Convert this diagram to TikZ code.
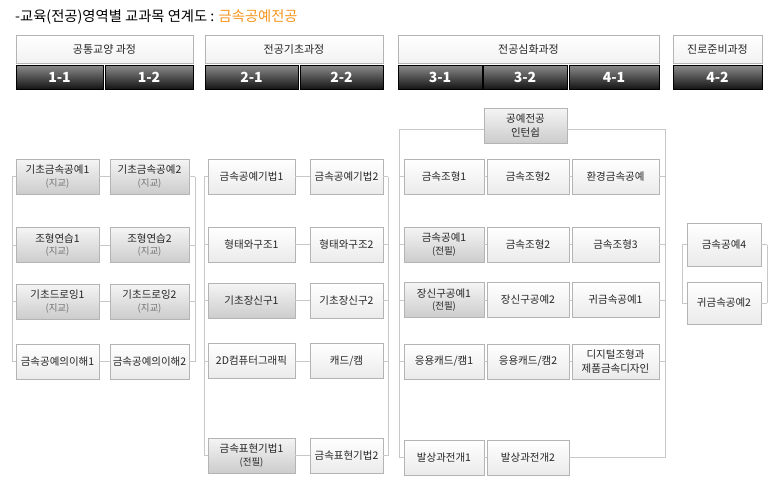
\documentclass[tikz,border=0pt]{standalone}
\usepackage{fontspec}
\setmainfont{Noto Sans CJK KR}
\definecolor{lineclr}{HTML}{C8C8C8}
\definecolor{boxclr}{HTML}{B4B4B4}
\definecolor{txtclr}{HTML}{262626}
\definecolor{orng}{HTML}{F7941D}
\tikzset{%
  course/.style = {shape=rectangle, draw=boxclr, line width=0.8pt, align=center,%
                   top color=white, bottom color=black!8, text=txtclr,%
                   font=\fontsize{10.5}{13.5}\selectfont, inner sep=0pt,%
                   minimum height=35},%
  req/.style    = {course, top color=black!4, bottom color=black!20},%
  area/.style   = {course, minimum height=28, bottom color=black!5,%
                   font=\fontsize{11}{13}\selectfont},%
  term/.style   = {shape=rectangle, draw=black, line width=0.8pt,%
                   top color=black!45, middle color=black!78, bottom color=black!92,%
                   text=white, font=\fontsize{14}{14}\selectfont\bfseries,%
                   minimum height=24, inner sep=0pt},%
  link/.style   = {draw=lineclr, line width=0.8pt}%
}
\newcommand{\jigyo}{\\[-1pt]{\fontsize{9.5}{11}\selectfont\color{black!55}(지교)}}
\newcommand{\jeonpil}{\\[-1pt]{\fontsize{9.5}{11}\selectfont(전필)}}

\begin{document}
\begin{tikzpicture}[x=1pt,y=-1pt]
  \useasboundingbox (0,0) rectangle (777,488);
  \node[anchor=west, inner sep=0pt, text=black, font=\fontsize{14.3}{15}\selectfont]
    (title) at (15,17) {-교육(전공)영역별 교과목 연계도 : {\color{orng}금속공예전공}};

  % course areas
  \node[area, minimum width=177] (h1) at (104.5,49) {공통교양 과정};
  \node[area, minimum width=178] (h2) at (294,49) {전공기초과정};
  \node[area, minimum width=261] (h3) at (528.5,49) {전공심화과정};
  \node[area, minimum width=89]  (h4) at (717.5,49) {진로준비과정};

  % terms
  \node[term, minimum width=87] (t11) at (59.5,77) {1-1};
  \node[term, minimum width=88] (t12) at (149,77) {1-2};
  \node[term, minimum width=93] (t21) at (251.5,77) {2-1};
  \node[term, minimum width=83] (t22) at (341.5,77) {2-2};
  \node[term, minimum width=84] (t31) at (440,77) {3-1};
  \node[term, minimum width=84] (t32) at (525,77) {3-2};
  \node[term, minimum width=90] (t41) at (614,77) {4-1};
  \node[term, minimum width=89] (t42) at (717.5,77) {4-2};

  % year 1
  \node[req, minimum width=83] (ga1) at (57.5,176.5) {기초금속공예1\jigyo};
  \node[req, minimum width=79] (gb1) at (149.5,176.5) {기초금속공예2\jigyo};
  \node[req, minimum width=83] (ga2) at (57.5,245) {조형연습1\jigyo};
  \node[req, minimum width=79] (gb2) at (149.5,245) {조형연습2\jigyo};
  \node[req, minimum width=83] (ga3) at (57.5,301.5) {기초드로잉1\jigyo};
  \node[req, minimum width=79] (gb3) at (149.5,301.5) {기초드로잉2\jigyo};
  \node[course, minimum width=83] (ga4) at (57.5,361.5) {금속공예의이해1};
  \node[course, minimum width=79] (gb4) at (149.5,361.5) {금속공예의이해2};

  % year 2
  \node[course, minimum width=87] (ka1) at (251.5,176.5) {금속공예기법1};
  \node[course, minimum width=73] (kb1) at (346.5,176.5) {금속공예기법2};
  \node[course, minimum width=87] (ka2) at (251.5,244.5) {형태와구조1};
  \node[course, minimum width=73] (kb2) at (346.5,244.5) {형태와구조2};
  \node[req, minimum width=87]    (ka3) at (251.5,300.5) {기초장신구1};
  \node[course, minimum width=73] (kb3) at (346.5,300.5) {기초장신구2};
  \node[course, minimum width=87] (ka4) at (251.5,361) {2D컴퓨터그래픽};
  \node[course, minimum width=73] (kb4) at (346.5,361) {캐드/캠};
  \node[req, minimum width=87]    (ka5) at (251.5,455.5) {금속표현기법1\jeonpil};
  \node[course, minimum width=73] (kb5) at (346.5,455.5) {금속표현기법2};

  % years 3-4
  \node[req, minimum width=83] (intern) at (525.5,125.5) {공예전공\\인턴쉽};
  \node[course, minimum width=80] (sa1) at (444,176.5) {금속조형1};
  \node[course, minimum width=82] (sb1) at (528,176.5) {금속조형2};
  \node[course, minimum width=87] (sc1) at (615.5,176.5) {환경금속공예};
  \node[req, minimum width=80]    (sa2) at (444,244.5) {금속공예1\jeonpil};
  \node[course, minimum width=82] (sb2) at (528,244.5) {금속조형2};
  \node[course, minimum width=87] (sc2) at (615.5,244.5) {금속조형3};
  \node[req, minimum width=80]    (sa3) at (444,300) {장신구공예1\jeonpil};
  \node[course, minimum width=82] (sb3) at (528,300) {장신구공예2};
  \node[course, minimum width=87] (sc3) at (615.5,300) {귀금속공예1};
  \node[course, minimum width=80] (sa4) at (444,361.5) {응용캐드/캠1};
  \node[course, minimum width=82] (sb4) at (528,361.5) {응용캐드/캠2};
  \node[course, minimum width=87] (sc4) at (615.5,361.5) {디지털조형과\\제품금속디자인};
  \node[course, minimum width=80] (sa5) at (444,457.5) {발상과전개1};
  \node[course, minimum width=82] (sb5) at (528,457.5) {발상과전개2};

  % year 4 career
  \node[course, minimum width=74, minimum height=43] (jr1) at (724,244.5) {금속공예4};
  \node[course, minimum width=74, minimum height=42] (jr2) at (724,303) {귀금속공예2};

  % bracket lines
  \coordinate (gL) at (12,0);  \coordinate (gR) at (195,0);
  \coordinate (kL) at (204,0); \coordinate (kR) at (388,0);
  \coordinate (sL) at (399,0); \coordinate (sR) at (665,0);
  \coordinate (jL) at (682,0); \coordinate (jR) at (767,0);

  \foreach \r in {1,...,4}{
    \draw[link] (ga\r.west) -- (ga\r.west -| gL);
    \draw[link] (ga\r) -- (gb\r);
    \draw[link] (gb\r.east) -- (gb\r.east -| gR);
  }
  \draw[link] (ga1.west -| gL) -- (ga4.west -| gL);
  \draw[link] (gb1.east -| gR) -- (gb4.east -| gR);

  \foreach \r in {1,...,5}{
    \draw[link] (ka\r.west) -- (ka\r.west -| kL);
    \draw[link] (ka\r) -- (kb\r);
    \draw[link] (kb\r.east) -- (kb\r.east -| kR);
  }
  \draw[link] (ka1.west -| kL) -- (ka5.west -| kL);
  \draw[link] (kb1.east -| kR) -- (kb5.east -| kR);

  \foreach \r in {1,...,4}{
    \draw[link] (sa\r.west) -- (sa\r.west -| sL);
    \draw[link] (sa\r) -- (sb\r) -- (sc\r);
    \draw[link] (sc\r.east) -- (sc\r.east -| sR);
  }
  \draw[link] (sa5.west) -- (sa5.west -| sL);
  \draw[link] (sa5) -- (sb5);
  \draw[link] (sb5.east) -- (sb5.east -| sR);
  \draw[link] ([yshift=-3.5pt]intern.west) -- ([yshift=-3.5pt]intern.west -| sL)
    -- (sa5.west -| sL);
  \draw[link] ([yshift=-3.5pt]intern.east) -- ([yshift=-3.5pt]intern.east -| sR)
    -- (sb5.east -| sR);

  \foreach \r in {1,2}{
    \draw[link] (jr\r.west) -- (jr\r.west -| jL);
    \draw[link] (jr\r.east) -- (jr\r.east -| jR);
  }
  \draw[link] (jr1.west -| jL) -- (jr2.west -| jL);
  \draw[link] (jr1.east -| jR) -- (jr2.east -| jR);
\end{tikzpicture}
\end{document}
